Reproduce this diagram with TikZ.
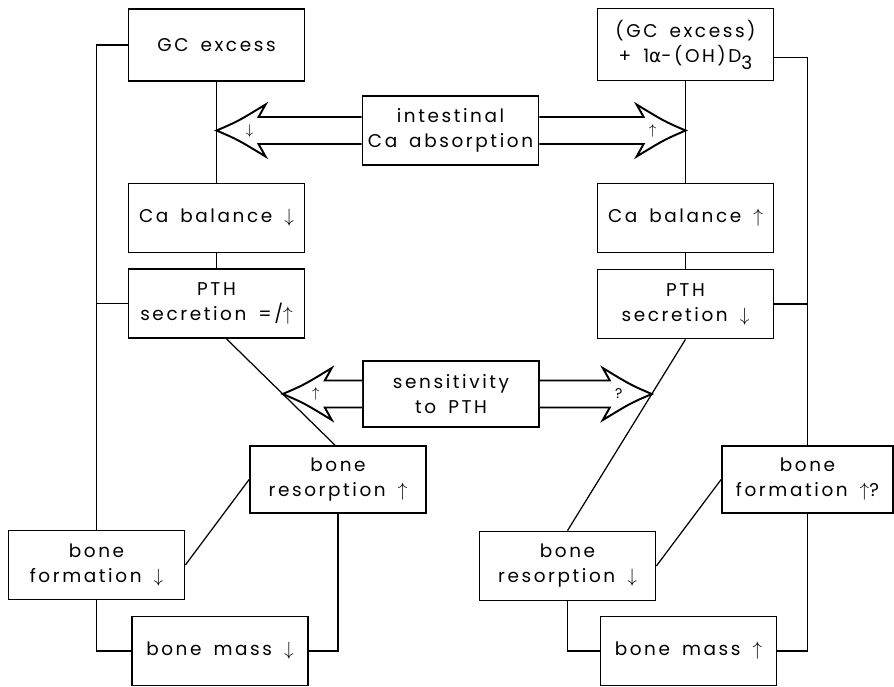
\documentclass[tikz,border=0pt]{standalone}
\usepackage{fontspec}
\setmainfont{Poppins}[LetterSpace=14, WordSpace=1.6]
\newfontfamily\greekfont{DejaVu Sans}
\usetikzlibrary{calc}

% hollow double-line arrow: start anchor, tip, direction (1 right / -1 left), mark, name
\newcommand{\hollowarrow}[5]{%
	\draw[hollow] ($(#1)+(0,-13.5)$) -- ($(#2)+({-42*(#3)},-13.5)$) -- ($(#2)+({-49*(#3)},-26)$)
		.. controls ($(#2)+({-21*(#3)},-9)$) .. (#2)
		.. controls ($(#2)+({-21*(#3)},9)$) .. ($(#2)+({-49*(#3)},26)$)
		-- ($(#2)+({-42*(#3)},13.5)$) -- ($(#1)+(0,13.5)$);
	\node[mark sign] (#5) at ($(#2)+({-33*(#3)},0)$) {#4};
}

\tikzset{
	factor/.style={draw, line width=1pt, fill=white, align=center, inner sep=0pt,
		minimum width=3.52cm, minimum height=1.38cm, font=\fontsize{10.5}{14.2}\selectfont},
	link/.style={line width=0.7pt},
	hollow/.style={line width=1.1pt, fill=white, line join=miter},
	mark sign/.style={inner sep=0pt, font=\footnotesize},
}

\begin{document}
\begin{tikzpicture}[x=0.02cm, y=-0.02cm]
	\useasboundingbox (0,0) rectangle (894,687);

	% top row
	\node[factor, minimum height=1.44cm] (gcl) at (216.5,45) {GC excess};
	\node[factor, minimum height=1.44cm] (gcr) at (685.5,44.5) {(GC excess)\\+ 1{\greekfont α}-(OH)D\raisebox{-0.7ex}{3}};
	\node[factor] (intest) at (450.5,130.5) {intestinal\\Ca absorption};

	% calcium / PTH
	\node[factor] (cabl) at (216.5,218) {Ca balance $\downarrow$};
	\node[factor] (cabr) at (685.5,218) {Ca balance $\uparrow$};
	\node[factor] (pthl) at (216.5,303.5) {PTH\\secretion =/$\uparrow$};
	\node[factor] (pthr) at (685.5,304) {PTH\\secretion $\downarrow$};
	\node[factor, minimum height=1.32cm] (sens) at (451,394) {sensitivity\\to PTH};

	% bone
	\node[factor, minimum height=1.34cm] (resl) at (338,479.5) {bone\\resorption $\uparrow$};
	\node[factor, minimum width=3.42cm, minimum height=1.34cm] (forr) at (807.5,479.5) {bone\\formation $\uparrow$?};
	\node[factor] (forl) at (96.5,565) {bone\\formation $\downarrow$};
	\node[factor] (resr) at (567.5,566) {bone\\resorption $\downarrow$};
	\node[factor] (massl) at (220,651) {bone mass $\downarrow$};
	\node[factor] (massr) at (688.5,651) {bone mass $\uparrow$};

	% left chain
	\draw[link] (gcl.south) -- (cabl.north);
	\draw[link] (cabl.south) -- (pthl.north);
	\draw[link] (gcl.west) -| (forl.north);
	\draw[link] (pthl.west) -- (pthl.west -| forl.north);
	\coordinate (dl1) at ($(pthl.south)+(10,0)$);
	\coordinate (dl2) at ($(resl.north)+(-3,0)$);
	\draw[link] (dl1) -- (dl2);
	\draw[link] (forl.east) -- (resl.west);
	\draw[link] (forl.south) |- (massl.west);
	\draw[link] (massl.east) -| (resl.south);

	% right chain
	\draw[link] (gcr.south) -- (cabr.north);
	\draw[link] (cabr.south) -- (pthr.north);
	\draw[link] ($(gcr.east)+(0,13)$) -| (forr.north);
	\draw[link] (pthr.east) -- (pthr.east -| forr.north);
	\draw[link] (pthr.south) -- (resr.north);
	\draw[link] (resr.east) -- (forr.west);
	\draw[link] (resr.south) |- (massr.west);
	\draw[link] (massr.east) -| (forr.south);

	% hollow arrows
	\coordinate (itipl) at (intersection of gcl.south--cabl.north and intest.west--intest.east);
	\coordinate (itipr) at (intersection of gcr.south--cabr.north and intest.west--intest.east);
	\coordinate (stipl) at (intersection of dl1--dl2 and sens.west--sens.east);
	\coordinate (stipr) at (intersection of pthr.south--resr.north and sens.west--sens.east);
	\hollowarrow{intest.west}{itipl}{-1}{$\downarrow$}{imarkl}
	\hollowarrow{intest.east}{itipr}{1}{$\uparrow$}{imarkr}
	\hollowarrow{sens.west}{stipl}{-1}{$\uparrow$}{smarkl}
	\hollowarrow{sens.east}{stipr}{1}{?}{smarkr}
\end{tikzpicture}
\end{document}
